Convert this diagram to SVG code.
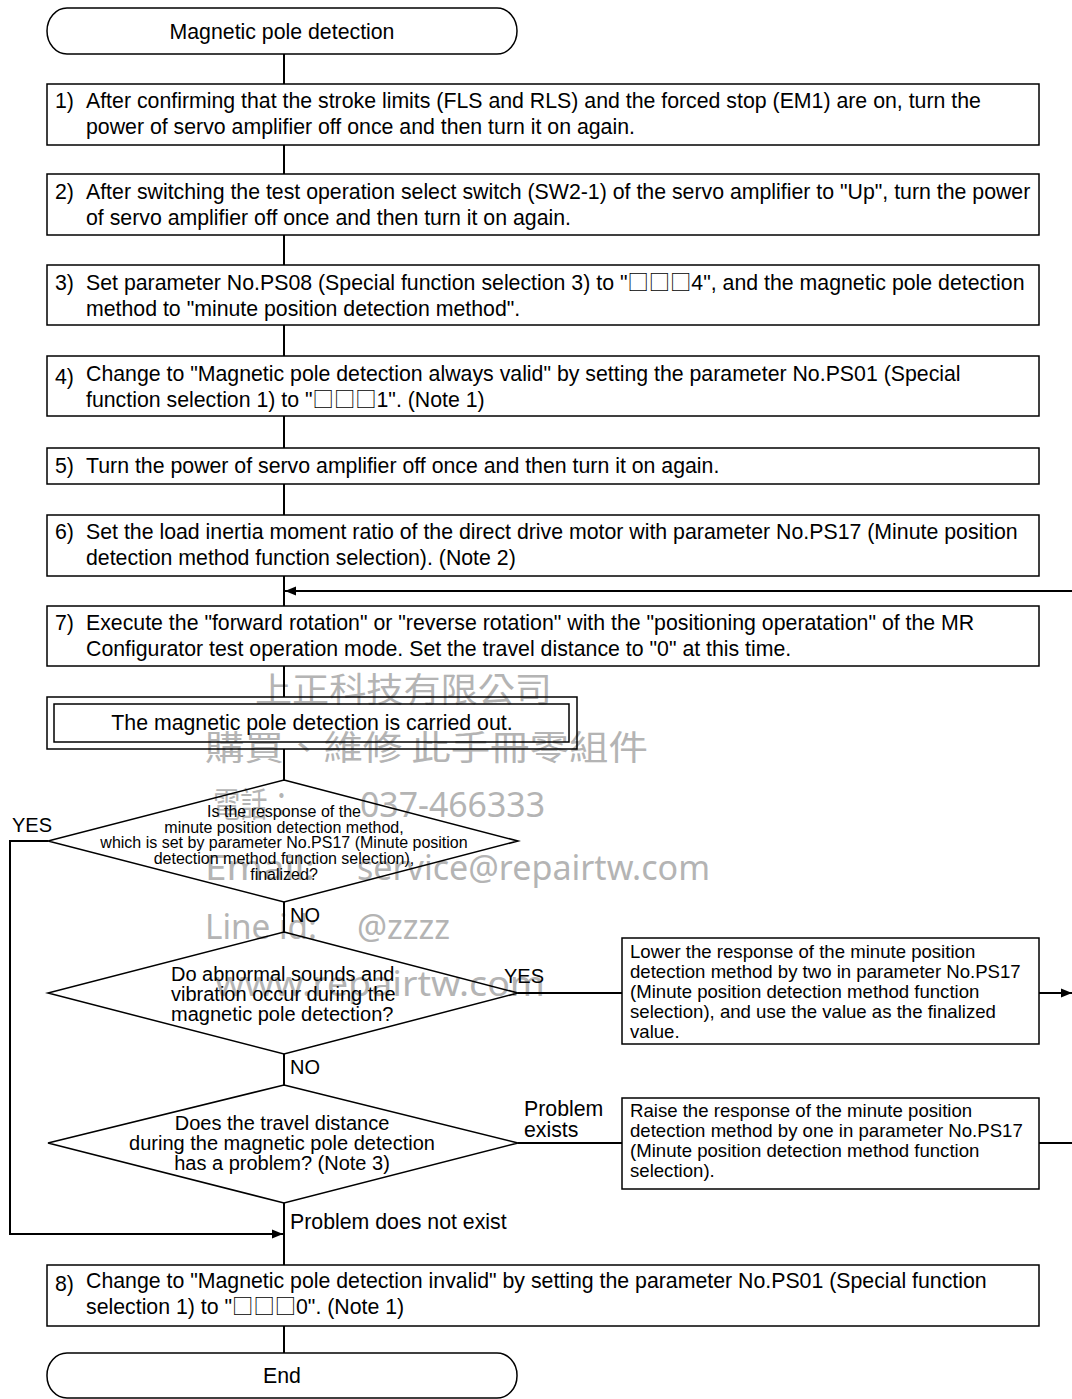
<svg xmlns="http://www.w3.org/2000/svg" width="1072" height="1399" viewBox="0 0 1072 1399">
<style>
.bg{fill:#fff}
.b{fill:none;stroke:#000;stroke-width:1.5}
.t{font-family:"Liberation Sans",Arial,"Noto Sans CJK JP",sans-serif;font-size:21.3px;fill:#000}
.s{font-size:18.6px}
.d{font-size:20px}
.q{font-size:16px}
.m{text-anchor:middle}
.sq{font-family:"Noto Sans CJK JP",sans-serif}
.c{stroke:#000;stroke-width:2;fill:none}
.w{font-family:"Noto Sans CJK TC","Noto Sans",sans-serif;font-size:34px;fill:#b4b4b4}
.wl{font-family:"Noto Sans","Noto Sans CJK TC",sans-serif;font-size:34px;fill:#b4b4b4}
</style>
<defs>
<marker id="ah" markerUnits="userSpaceOnUse" markerWidth="12" markerHeight="10" refX="11" refY="5" orient="auto">
<path d="M0,0.5 L11,5 L0,9.5 Z" fill="#000"/>
</marker>
</defs>
<rect class="bg" x="0" y="0" width="1072" height="1399"/>

<g id="watermark">
<text class="w" x="255" y="702" textLength="297" lengthAdjust="spacingAndGlyphs">上正科技有限公司</text>
<text class="w" x="205" y="760" textLength="443" lengthAdjust="spacingAndGlyphs">購買、維修 此手冊零組件</text>
<text class="w" x="213" y="817" textLength="82" lengthAdjust="spacingAndGlyphs">電話：</text>
<text class="wl" x="360" y="817" textLength="185" lengthAdjust="spacingAndGlyphs">037-466333</text>
<text class="wl" x="205" y="880" textLength="110" lengthAdjust="spacingAndGlyphs">Email:</text>
<text class="wl" x="357" y="880" textLength="353" lengthAdjust="spacingAndGlyphs">service@repairtw.com</text>
<text class="wl" x="205" y="939" textLength="112" lengthAdjust="spacingAndGlyphs">Line id:</text>
<text class="wl" x="357" y="939" textLength="93" lengthAdjust="spacingAndGlyphs">@zzzz</text>
<text class="wl" x="215" y="996" textLength="330" lengthAdjust="spacingAndGlyphs">www.repairtw.com</text>
</g>

<g id="connectors">
<line class="c" x1="284" y1="54" x2="284" y2="84"/>
<line class="c" x1="284" y1="145" x2="284" y2="174"/>
<line class="c" x1="284" y1="235" x2="284" y2="265"/>
<line class="c" x1="284" y1="325" x2="284" y2="356"/>
<line class="c" x1="284" y1="416" x2="284" y2="448"/>
<line class="c" x1="284" y1="484" x2="284" y2="515"/>
<line class="c" x1="284" y1="576" x2="284" y2="606"/>
<line class="c" x1="284" y1="666" x2="284" y2="697"/>
<line class="c" x1="284" y1="749" x2="284" y2="780"/>
<line class="c" x1="284" y1="902" x2="284" y2="932"/>
<line class="c" x1="284" y1="1054" x2="284" y2="1085"/>
<line class="c" x1="284" y1="1203" x2="284" y2="1265"/>
<line class="c" x1="284" y1="1326" x2="284" y2="1353"/>
<line class="c" x1="1072" y1="591" x2="285" y2="591" marker-end="url(#ah)"/>
<polyline class="c" points="48,841 10,841 10,1234 283,1234" marker-end="url(#ah)"/>
<line class="c" x1="518" y1="993" x2="622" y2="993"/>
<line class="c" x1="1039" y1="993" x2="1072" y2="993" marker-end="url(#ah)"/>
<line class="c" x1="518" y1="1143" x2="622" y2="1143"/>
<line class="c" x1="1039" y1="1143" x2="1072" y2="1143"/>
<text class="t d" x="290" y="922">NO</text>
<text class="t d" x="12" y="832">YES</text>
<text class="t d" x="290" y="1074">NO</text>
<text class="t d" x="504" y="983">YES</text>
<text class="t" x="524" y="1116">Problem</text>
<text class="t" x="524" y="1137">exists</text>
<text class="t" x="290" y="1229">Problem does not exist</text>
</g>

<g id="start">
<rect class="b" x="47" y="8" width="470" height="46" rx="20" ry="23"/>
<text class="t m" x="282" y="39">Magnetic pole detection</text>
</g>

<g id="step1">
<rect class="b" x="47" y="84" width="992" height="61"/>
<text class="t" x="55" y="108">1)</text>
<text class="t" x="86" y="108">After confirming that the stroke limits (FLS and RLS) and the forced stop (EM1) are on, turn the</text>
<text class="t" x="86" y="134">power of servo amplifier off once and then turn it on again.</text>
</g>

<g id="step2">
<rect class="b" x="47" y="174" width="992" height="61"/>
<text class="t" x="55" y="199">2)</text>
<text class="t" x="86" y="199">After switching the test operation select switch (SW2-1) of the servo amplifier to "Up", turn the power</text>
<text class="t" x="86" y="225">of servo amplifier off once and then turn it on again.</text>
</g>

<g id="step3">
<rect class="b" x="47" y="265" width="992" height="60"/>
<text class="t" x="55" y="290">3)</text>
<text class="t" x="86" y="290">Set parameter No.PS08 (Special function selection 3) to "<tspan class="sq">□□□</tspan>4", and the magnetic pole detection</text>
<text class="t" x="86" y="316">method to "minute position detection method".</text>
</g>

<g id="step4">
<rect class="b" x="47" y="356" width="992" height="60"/>
<text class="t" x="55" y="384">4)</text>
<text class="t" x="86" y="381">Change to "Magnetic pole detection always valid" by setting the parameter No.PS01 (Special</text>
<text class="t" x="86" y="407">function selection 1) to "<tspan class="sq">□□□</tspan>1". (Note 1)</text>
</g>

<g id="step5">
<rect class="b" x="47" y="448" width="992" height="36"/>
<text class="t" x="55" y="473">5)</text>
<text class="t" x="86" y="473">Turn the power of servo amplifier off once and then turn it on again.</text>
</g>

<g id="step6">
<rect class="b" x="47" y="515" width="992" height="61"/>
<text class="t" x="55" y="539">6)</text>
<text class="t" x="86" y="539">Set the load inertia moment ratio of the direct drive motor with parameter No.PS17 (Minute position</text>
<text class="t" x="86" y="565">detection method function selection). (Note 2)</text>
</g>

<g id="step7">
<rect class="b" x="47" y="606" width="992" height="60"/>
<text class="t" x="55" y="630">7)</text>
<text class="t" x="86" y="630">Execute the "forward rotation" or "reverse rotation" with the "positioning operatation" of the MR</text>
<text class="t" x="86" y="656">Configurator test operation mode. Set the travel distance to "0" at this time.</text>
</g>

<g id="detect">
<rect class="b" x="47" y="697" width="530" height="52"/>
<rect class="b" x="54" y="704" width="515" height="38"/>
<text class="t m" x="312" y="730">The magnetic pole detection is carried out.</text>
</g>

<g id="decision1">
<polygon class="b" points="284,780 518,841 284,902 48,841"/>
<text class="t q m" x="284" y="817">Is the response of the</text>
<text class="t q m" x="284" y="832.7">minute position detection method,</text>
<text class="t q m" x="284" y="848.4">which is set by parameter No.PS17 (Minute position</text>
<text class="t q m" x="284" y="864.1">detection method function selection),</text>
<text class="t q m" x="284" y="879.8">finalized?</text>
</g>

<g id="decision2">
<polygon class="b" points="284,932 518,993 284,1054 48,993"/>
<text class="t d" x="171" y="981">Do abnormal sounds and</text>
<text class="t d" x="171" y="1001">vibration occur during the</text>
<text class="t d" x="171" y="1021">magnetic pole detection?</text>
</g>

<g id="lower">
<rect class="b" x="622" y="938" width="417" height="106"/>
<text class="t s" x="630" y="958">Lower the response of the minute position</text>
<text class="t s" x="630" y="978">detection method by two in parameter No.PS17</text>
<text class="t s" x="630" y="998">(Minute position detection method function</text>
<text class="t s" x="630" y="1018">selection), and use the value as the finalized</text>
<text class="t s" x="630" y="1038">value.</text>
</g>

<g id="decision3">
<polygon class="b" points="284,1085 518,1143 284,1203 48,1143"/>
<text class="t d m" x="282" y="1130">Does the travel distance</text>
<text class="t d m" x="282" y="1150">during the magnetic pole detection</text>
<text class="t d m" x="282" y="1170">has a problem? (Note 3)</text>
</g>

<g id="raise">
<rect class="b" x="622" y="1098" width="417" height="91"/>
<text class="t s" x="630" y="1117">Raise the response of the minute position</text>
<text class="t s" x="630" y="1137">detection method by one in parameter No.PS17</text>
<text class="t s" x="630" y="1157">(Minute position detection method function</text>
<text class="t s" x="630" y="1177">selection).</text>
</g>

<g id="step8">
<rect class="b" x="47" y="1265" width="992" height="61"/>
<text class="t" x="55" y="1291">8)</text>
<text class="t" x="86" y="1288">Change to "Magnetic pole detection invalid" by setting the parameter No.PS01 (Special function</text>
<text class="t" x="86" y="1314">selection 1) to "<tspan class="sq">□□□</tspan>0". (Note 1)</text>
</g>

<g id="end">
<rect class="b" x="47" y="1353" width="470" height="45" rx="20" ry="22"/>
<text class="t m" x="282" y="1383">End</text>
</g>
</svg>
